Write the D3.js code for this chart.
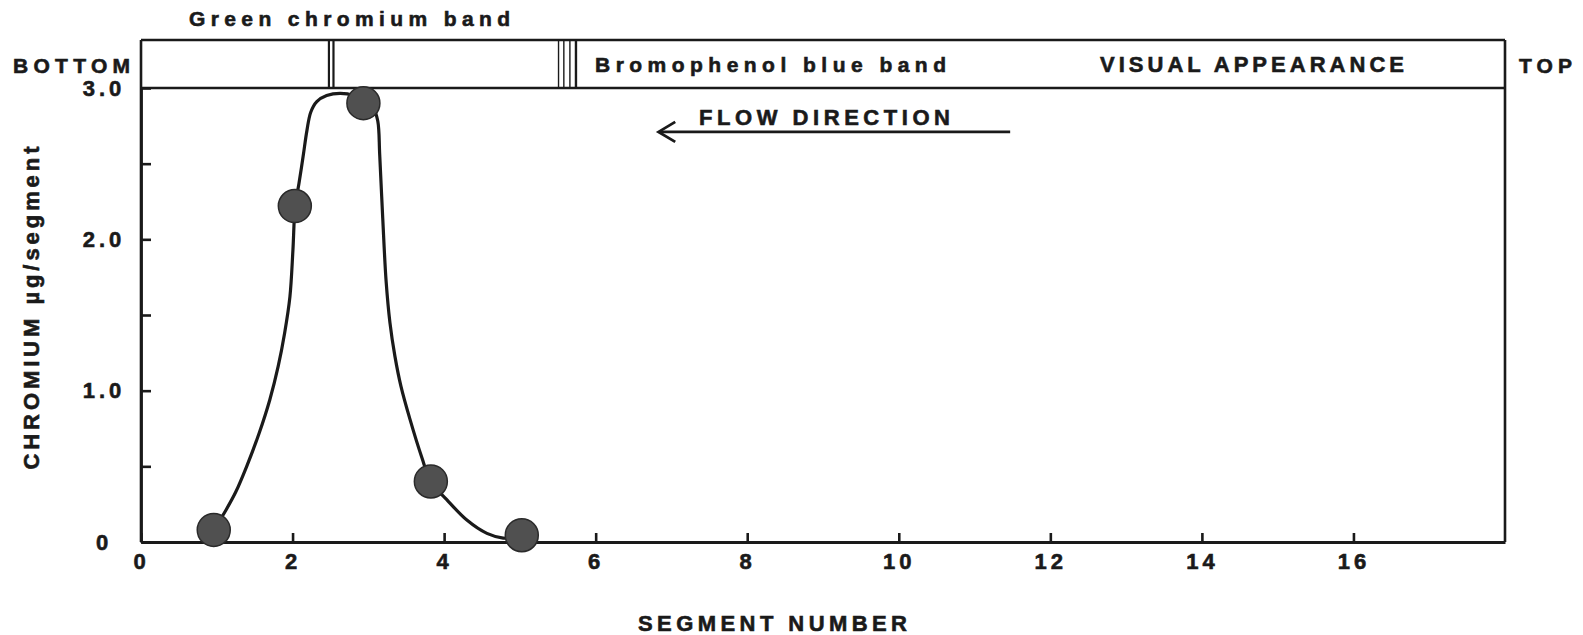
<!DOCTYPE html>
<html>
<head>
<meta charset="utf-8">
<script src="https://cdn.jsdelivr.net/npm/d3@7"></script>
<style>
  html, body { margin: 0; padding: 0; background: #fff; }
  svg { display: block; }
  text { font-family: "Liberation Sans", Arial, sans-serif; font-weight: bold; fill: #1a1a1a; stroke: #1a1a1a; stroke-width: 0.6px; }
</style>
</head>
<body>
<svg id="chart" width="1583" height="635"></svg>
<script>
// measured points (segment number vs chromium ug/segment)
const segments = [0.96, 2.03, 2.935, 3.825, 5.025];
const chromium = [0.08, 2.22, 2.90, 0.40, 0.045];

// hand-drawn smooth curve
const traceSegments = [0.96, 1.12, 1.25, 1.395, 1.56, 1.70, 1.81, 1.895, 1.965, 2.005, 2.035, 2.085, 2.14, 2.19, 2.24, 2.32, 2.45, 2.63, 2.80, 2.935, 3.07, 3.125, 3.15, 3.19, 3.235, 3.285, 3.35, 3.43, 3.55, 3.705, 3.825, 4.035, 4.30, 4.565, 4.78, 4.95];
const traceChromium = [0.08, 0.21, 0.33, 0.50, 0.72, 0.94, 1.16, 1.38, 1.62, 1.93, 2.22, 2.37, 2.55, 2.72, 2.84, 2.91, 2.95, 2.965, 2.95, 2.90, 2.86, 2.78, 2.56, 2.14, 1.72, 1.45, 1.23, 1.03, 0.81, 0.56, 0.40, 0.28, 0.145, 0.057, 0.026, 0.03];

const xTicks = [0, 2, 4, 6, 8, 10, 12, 14, 16];
const yTicks = [0, 0.5, 1, 1.5, 2, 2.5, 3];
const yLabelValues = [0, 1, 2, 3];
const yLabels = ["0", "1.0", "2.0", "3.0"];

// visual appearance strip: band marks by segment position
const greenBand = [2.48, 2.54];
const blueBand = [5.51, 5.58, 5.66, 5.74];

const PLOT = { left: 141, right: 1505, top: 88, bottom: 542 };
const STRIP_TOP = 40;
const INK = "#1a1a1a";
const FONT = '"Liberation Sans", Arial, sans-serif';

const svg = d3.select("#chart");

const x = d3.scaleLinear().domain([0, 18]).range([PLOT.left, PLOT.right]);
const y = d3.scaleLinear().domain([0, 3]).range([PLOT.bottom, PLOT.top]);

// frame: strip box + plot box
const frame = svg.append("g").attr("stroke", INK).attr("stroke-width", 2.6).attr("fill", "none");
frame.append("line").attr("x1", x(0)).attr("x2", x(18)).attr("y1", STRIP_TOP).attr("y2", STRIP_TOP);
frame.append("line").attr("x1", x(0)).attr("x2", x(18)).attr("y1", y(3)).attr("y2", y(3));
frame.append("line").attr("x1", x(0)).attr("x2", x(0)).attr("y1", STRIP_TOP).attr("y2", y(0));
frame.append("line").attr("x1", x(18)).attr("x2", x(18)).attr("y1", STRIP_TOP).attr("y2", y(0));

// band marks
svg.append("g").selectAll("line")
  .data(greenBand)
  .join("line")
    .attr("x1", d => x(d)).attr("x2", d => x(d))
    .attr("y1", STRIP_TOP).attr("y2", y(3))
    .attr("stroke", INK).attr("stroke-width", 2.2);

svg.append("g").selectAll("line")
  .data(blueBand)
  .join("line")
    .attr("x1", d => x(d)).attr("x2", d => x(d))
    .attr("y1", STRIP_TOP).attr("y2", y(3))
    .attr("stroke", INK).attr("stroke-width", (d, i) => i === blueBand.length - 1 ? 2.4 : 1.4);

// x axis, ticks pointing up into the plot
const xAxis = svg.append("g")
  .attr("transform", `translate(0,${PLOT.bottom})`)
  .call(d3.axisBottom(x).tickValues(xTicks).tickSizeInner(-9).tickSizeOuter(0).tickPadding(11).tickFormat(d3.format("d")));
xAxis.select(".domain").attr("stroke", INK).attr("stroke-width", 2.8);
xAxis.selectAll(".tick line").attr("stroke", INK).attr("stroke-width", 2.6);
xAxis.selectAll(".tick text")
  .attr("font-size", 22).attr("letter-spacing", 4)
  .attr("font-family", FONT).attr("font-weight", "bold")
  .attr("fill", INK);

// y axis, ticks pointing right into the plot
const yAxis = svg.append("g")
  .attr("transform", `translate(${PLOT.left},0)`)
  .call(d3.axisRight(y).tickValues(yTicks).tickSizeInner(10).tickSizeOuter(0)
    .tickFormat(d => { const i = yLabelValues.indexOf(d); return i < 0 ? "" : yLabels[i]; }));
yAxis.select(".domain").attr("stroke", INK).attr("stroke-width", 2.8);
yAxis.selectAll(".tick line").attr("stroke", INK).attr("stroke-width", 2.6);
yAxis.selectAll(".tick text")
  .attr("x", -37).attr("text-anchor", "middle")
  .attr("font-size", 22).attr("letter-spacing", 4)
  .attr("font-family", FONT).attr("font-weight", "bold")
  .attr("fill", INK);

// curve
const trace = traceSegments.map((s, i) => [s, traceChromium[i]]);
const line = d3.line()
  .x(d => x(d[0]))
  .y(d => y(d[1]))
  .curve(d3.curveCatmullRom.alpha(0.5));

svg.append("path")
  .datum(trace)
  .attr("d", line)
  .attr("fill", "none")
  .attr("stroke", INK)
  .attr("stroke-width", 3.2);

// points
svg.append("g").selectAll("circle")
  .data(segments.map((s, i) => [s, chromium[i]]))
  .join("circle")
    .attr("cx", d => x(d[0]))
    .attr("cy", d => y(d[1]))
    .attr("r", 16.5)
    .attr("fill", "#505050")
    .attr("stroke", "#2a2a2a")
    .attr("stroke-width", 1.5);

// labels
const label = (txt, x0, yb, len, size, opts = {}) => {
  const t = svg.append("text")
    .attr("x", x0).attr("y", yb)
    .attr("font-size", size)
    .attr("textLength", len)
    .attr("lengthAdjust", "spacing")
    .text(txt);
  if (opts.transform) t.attr("transform", opts.transform);
  if (opts.anchor) t.attr("text-anchor", opts.anchor);
  return t;
};

label("Green chromium band", 189, 26, 321, 21);
label("BOTTOM", 13, 73, 117, 21);
label("TOP", 1519, 73, 53, 21);
label("Bromophenol blue band", 595, 72, 351, 21);
label("VISUAL APPEARANCE", 1100, 72, 304, 22);
label("FLOW DIRECTION", 699, 125, 251, 22);
label("SEGMENT NUMBER", 638, 631, 269, 22);
label("CHROMIUM \u00b5g/segment", 0, 0, 323, 22, { transform: "translate(39,308) rotate(-90)", anchor: "middle" });

// flow direction arrow
const arrowY = y(2.71);
svg.append("line")
  .attr("x1", x(6.86)).attr("x2", x(11.47))
  .attr("y1", arrowY).attr("y2", arrowY)
  .attr("stroke", INK).attr("stroke-width", 2.8);
svg.append("path")
  .attr("d", `M${x(7.05)},${arrowY - 10} L${x(6.83)},${arrowY} L${x(7.05)},${arrowY + 10}`)
  .attr("fill", "none").attr("stroke", INK).attr("stroke-width", 2.8);
</script>
</body>
</html>
